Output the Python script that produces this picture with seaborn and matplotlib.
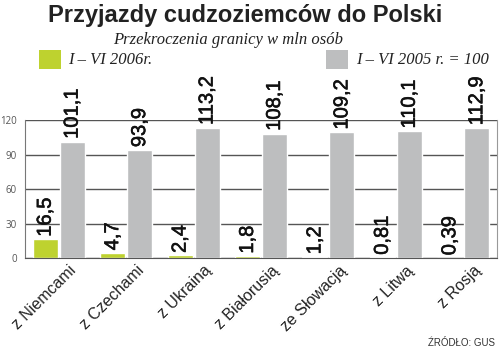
import pandas as pd
import matplotlib.pyplot as plt
import matplotlib.transforms as mtransforms
import matplotlib.patheffects as pe
from matplotlib.patches import Rectangle
import seaborn as sns

# data
categories = ['z Niemcami', 'z Czechami', 'z Ukrainą', 'z Białorusią',
              'ze Słowacją', 'z Litwą', 'z Rosją']
values_2006 = [16.5, 4.7, 2.4, 1.8, 1.2, 0.81, 0.39]
values_2005 = [101.1, 93.9, 113.2, 108.1, 109.2, 110.1, 112.9]
labels_2006 = ['16,5', '4,7', '2,4', '1,8', '1,2', '0,81', '0,39']
labels_2005 = ['101,1', '93,9', '113,2', '108,1', '109,2', '110,1', '112,9']
series = ['I – VI 2006r.', 'I – VI 2005 r. = 100']
yticks = [0, 30, 60, 90, 120]

green = '#bed22f'
grey = '#bdbebf'

df = pd.DataFrame({
    'kraj': categories * 2,
    'seria': [series[0]] * 7 + [series[1]] * 7,
    'wartosc': values_2006 + values_2005,
})

sns.set_style('white')
fig = plt.figure(figsize=(5, 3.53), dpi=100)
ax = fig.add_axes([0.05, 0.269, 0.944, 0.391])

sns.barplot(data=df, x='kraj', y='wartosc', hue='seria', palette=[green, grey],
            width=0.8, gap=0.075, ax=ax, legend=False, saturation=1)

ax.set_ylim(0, 120)
ax.set_xlim(-0.5, 6.5)
ax.set_yticks(yticks)
ax.set_yticklabels([str(t) for t in yticks], fontsize=7, color='#555555',
                   family='Open Sans')
ax.tick_params(axis='y', length=0, pad=6)
ax.tick_params(axis='x', length=0)
ax.set_xlabel('')
ax.set_ylabel('')
ax.yaxis.grid(True, color='#555555', linewidth=1)
ax.set_axisbelow(True)
ax.spines['top'].set_visible(False)
ax.spines['left'].set_color('#777777')
ax.spines['left'].set_linewidth(0.8)
ax.spines['right'].set_color('#999999')
ax.spines['right'].set_linewidth(0.8)
ax.spines['bottom'].set_color('#555555')

ax.set_xticks(range(len(categories)))
ax.set_xticklabels(categories, rotation=45, ha='right', va='top',
                   rotation_mode='anchor', fontsize=11.5,
                   family='Liberation Sans', color='#222222')
shift = mtransforms.ScaledTranslation(0.10, 0.0, fig.dpi_scale_trans)
for lab in ax.get_xticklabels():
    lab.set_transform(lab.get_transform() + shift)

# value labels
thick = [pe.withStroke(linewidth=0.4, foreground='#111111')]
for i in range(len(categories)):
    ax.text(i - 0.2, values_2006[i] + 2, labels_2006[i], rotation=90,
            ha='center', va='bottom', fontsize=14.5, family='Liberation Sans',
            color='#111111', clip_on=False, path_effects=thick)
    ax.text(i + 0.2, values_2005[i] + 2.5, labels_2005[i], rotation=90,
            ha='center', va='bottom', fontsize=14.5, family='Liberation Sans',
            color='#111111', clip_on=False, path_effects=thick)

fig.text(0.49, 0.955, 'Przyjazdy cudzoziemców do Polski', ha='center',
         va='center', fontsize=17, fontweight='bold', family='Liberation Sans',
         color='#222222')
fig.text(0.456, 0.888, 'Przekroczenia granicy w mln osób', ha='center',
         va='center', fontsize=12, style='italic', family='Liberation Serif',
         color='#222222')

# legend
fig.add_artist(Rectangle((39 / 500, 1 - 69 / 353), 22 / 500, 19 / 353,
                         transform=fig.transFigure, color=green, lw=0))
fig.add_artist(Rectangle((326 / 500, 1 - 69 / 353), 22 / 500, 19 / 353,
                         transform=fig.transFigure, color=grey, lw=0))
fig.text(68 / 500, 1 - 60 / 353, series[0], ha='left', va='center',
         fontsize=12, style='italic', family='Liberation Serif', color='#222222')
fig.text(356 / 500, 1 - 60 / 353, series[1], ha='left', va='center',
         fontsize=12, style='italic', family='Liberation Serif', color='#222222')

fig.text(0.99, 0.015, 'ŹRÓDŁO: GUS', ha='right', va='bottom', fontsize=7,
         family='Liberation Sans', color='#333333')

fig.savefig('out.png', dpi=100)
